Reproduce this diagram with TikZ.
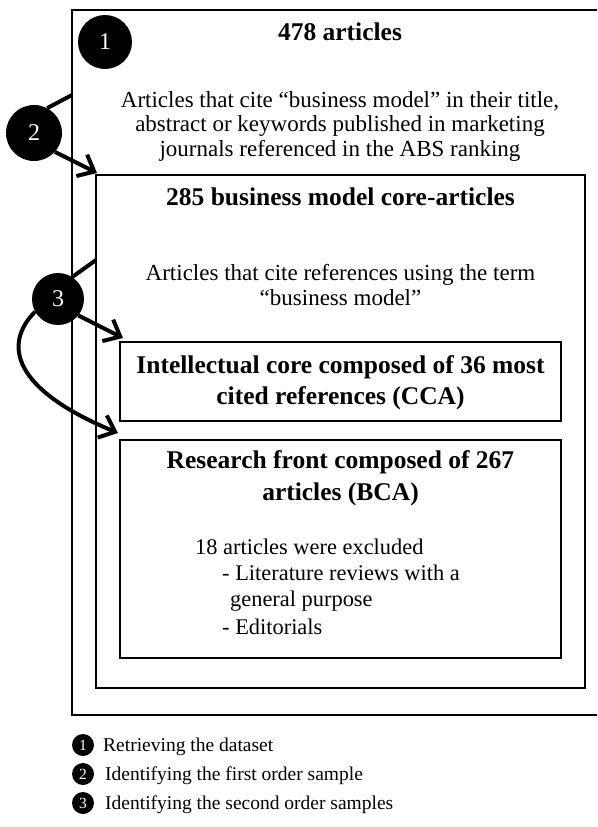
\documentclass[tikz,border=0pt]{standalone}
\usepackage{fontspec}
\setmainfont{Liberation Serif}
\usetikzlibrary{arrows.meta}
\begin{document}
\begin{tikzpicture}[x=1pt,y=-1pt,
  box/.style={draw, line width=1.3pt, inner sep=0pt, outer sep=0pt, anchor=north west},
  bt/.style={font=\fontsize{25.5}{30}\selectfont\bfseries, anchor=base, inner sep=0pt},
  rt/.style={font=\fontsize{23}{24}\selectfont, anchor=base, inner sep=0pt},
  ex/.style={font=\fontsize{22.4}{27}\selectfont, anchor=base west, inner sep=0pt},
  lg/.style={font=\fontsize{19.5}{22}\selectfont, anchor=base west, inner sep=0pt},
  bignum/.style={circle, fill=black, text=white, minimum size=54pt, inner sep=0pt, font=\fontsize{24}{24}\selectfont},
  smallnum/.style={circle, fill=black, text=white, minimum size=22pt, inner sep=0pt, font=\fontsize{15.5}{15.5}\selectfont},
  link/.style={line width=4pt},
  arr/.style={line width=4pt, -{Straight Barb[length=14pt,width=24pt]}}
]
\clip (0,0) rectangle (597,827);
\fill[white] (0,0) rectangle (597,827);

% boxes
\node[box, minimum width=540pt, minimum height=705pt] (outer) at (72,10) {};
\node[box, minimum width=489pt, minimum height=513pt] (inner) at (96,175) {};
\node[box, minimum width=441pt, minimum height=79pt] (cca) at (120,342) {};
\node[box, minimum width=441pt, minimum height=218pt] (bca) at (120,440) {};

% texts
\node[bt] (t478) at (340,40) {478 articles};
\node[rt] (p1a) at (340,107) {Articles that cite “business model” in their title,};
\node[rt] (p1b) at (340,131) {abstract or keywords published in marketing};
\node[rt] (p1c) at (340,156) {journals referenced in the ABS ranking};
\node[bt] (t285) at (340.5,205) {285 business model core-articles};
\node[rt] (p2a) at (340.5,280) {Articles that cite references using the term};
\node[rt] (p2b) at (340.5,305) {“business model”};
\node[bt] (cca1) at (340.5,373) {Intellectual core composed of 36 most};
\node[bt] (cca2) at (340.5,404) {cited references (CCA)};
\node[bt] (bca1) at (340.5,468) {Research front composed of 267};
\node[bt] (bca2) at (340.5,500) {articles (BCA)};
\node[ex] (x1) at (195,554) {18 articles were excluded};
\node[ex] (x2) at (222,580) {- Literature reviews with a};
\node[ex] (x3) at (230,606) {general purpose};
\node[ex] (x4) at (222,634) {- Editorials};

% step circles
\node[bignum] (c1) at (105,42) {1};
\node[bignum, minimum size=56pt] (c2) at (34,133) {2};
\node[bignum, minimum size=52pt] (c3) at (58,299) {3};

\coordinate (e2) at (72,95);
\coordinate (t2) at (97,173);
\coordinate (e3) at (96,260);
\coordinate (t3a) at (123,338);
\coordinate (t3b) at (118,433);

\draw[link] (c2.62) -- (e2);
\draw[arr] (c2.-42) -- (t2);
\draw[link] (c3.57) -- (e3);
\draw[arr] (c3.-39) -- (t3a);
\draw[arr] (c3.209) .. controls (2,345) and (14,390) .. (t3b);

% legend
\node[smallnum] (l1) at (83,745) {1};
\node[lg] (lt1) at (103,751) {Retrieving the dataset};
\node[smallnum] (l2) at (83,774) {2};
\node[lg] (lt2) at (105,780) {Identifying the first order sample};
\node[smallnum] (l3) at (83,803) {3};
\node[lg] (lt3) at (105,809) {Identifying the second order samples};
\end{tikzpicture}
\end{document}
